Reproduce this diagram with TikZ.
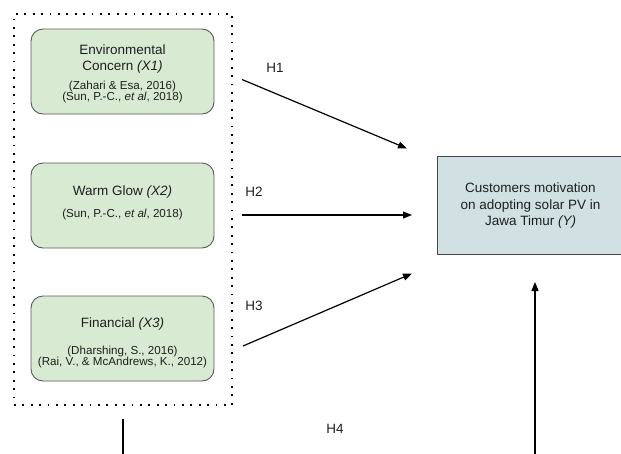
\documentclass[tikz,border=0pt]{standalone}
\usepackage{fontspec}
\setmainfont{Liberation Sans}
\usetikzlibrary{arrows.meta}
\definecolor{boxgreen}{HTML}{D9EAD3}
\definecolor{boxblue}{HTML}{D0E0E3}
\definecolor{edgegray}{HTML}{595959}
\definecolor{txt}{HTML}{1F1F1F}
\tikzset{
  greenbox/.style={draw=edgegray, fill=boxgreen, rounded corners=12pt, line width=0.9pt,
    minimum width=183pt, minimum height=85pt, inner sep=0pt},
  ybox/.style={draw=edgegray!80!black, fill=boxblue, line width=0.9pt,
    minimum width=187pt, minimum height=98pt, inner sep=0pt},
  ttl/.style={anchor=base, inner sep=0pt, text=txt, font=\fontsize{13.5}{16}\selectfont},
  cit/.style={anchor=base, inner sep=0pt, text=txt, font=\fontsize{11.6}{13}\selectfont},
  hlab/.style={anchor=base, inner sep=0pt, text=txt, font=\fontsize{13.5}{16}\selectfont},
  frame/.style={draw=black, line width=1.8pt, dash pattern=on 1.8pt off 6.6pt},
  arr/.style={draw=black, line width=1.2pt, -{Triangle[length=9pt,width=7pt]}},
  plain/.style={draw=black, line width=1.2pt}
}
\begin{document}
\begin{tikzpicture}[x=1pt,y=-1pt]
\useasboundingbox (0,0) rectangle (621,453);
% dotted group frame
\node[frame, minimum width=218pt, minimum height=391pt, inner sep=0pt] (grp) at (123,209.5) {};
% boxes
\node[greenbox] (x1) at (122.5,71.5) {};
\node[greenbox] (x2) at (122.5,205.5) {};
\node[greenbox] (x3) at (122.5,338.5) {};
\node[ybox] (y) at (530.5,205) {};
% box texts
\node[ttl] (x1a) at (122.5,54) {Environmental};
\node[ttl] (x1b) at (122.5,70) {Concern \textit{(X1)}};
\node[cit] (x1c) at (122.5,89.5) {(Zahari \& Esa, 2016)};
\node[cit] (x1d) at (122.5,100.5) {(Sun, P.-C., \textit{et al}, 2018)};
\node[ttl] (x2a) at (122.5,195) {Warm Glow \textit{(X2)}};
\node[cit] (x2b) at (122.5,217) {(Sun, P.-C., \textit{et al}, 2018)};
\node[ttl] (x3a) at (122.5,327.5) {Financial \textit{(X3)}};
\node[cit] (x3b) at (122.5,354.5) {(Dharshing, S., 2016)};
\node[cit] (x3c) at (122.5,365.5) {(Rai, V., \& McAndrews, K., 2012)};
\node[ttl] (ya) at (530.5,192.5) {Customers motivation};
\node[ttl] (yb) at (530.5,209) {on adopting solar PV in};
\node[ttl] (yc) at (530.5,225.5) {Jawa Timur \textit{(Y)}};
% hypothesis labels
\node[hlab] (h1) at (275,72) {H1};
\node[hlab] (h2) at (254,196) {H2};
\node[hlab] (h3) at (254,310) {H3};
\node[hlab] (h4) at (335,433) {H4};
% connector end points
\coordinate (s1) at (242,79.5);
\coordinate (e1) at (407,148.5);
\coordinate (s2) at (242,215);
\coordinate (e2) at (412,215);
\coordinate (s3) at (243,346);
\coordinate (e3) at (412,273.5);
\coordinate (s4) at (123,419);
\coordinate (b4) at (123,480);
\coordinate (c4) at (535,480);
\coordinate (e4) at (535,282);
\draw[arr] (s1) -- (e1);
\draw[arr] (s2) -- (e2);
\draw[arr] (s3) -- (e3);
\draw[arr] (s4) -- (b4) -- (c4) -- (e4);
\end{tikzpicture}
\end{document}
